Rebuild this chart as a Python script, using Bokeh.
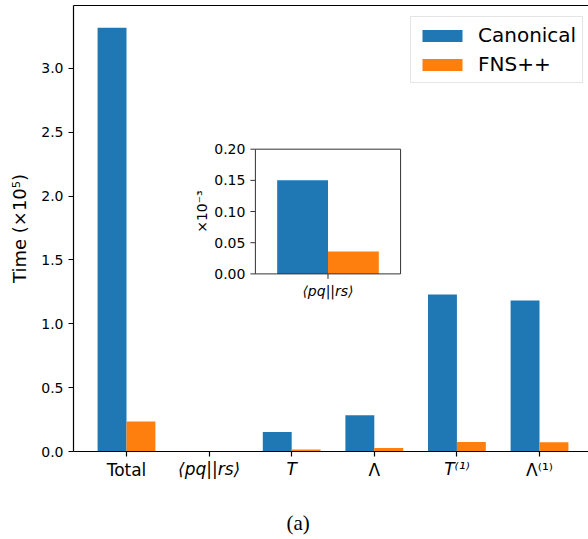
import numpy as np
from bokeh.plotting import figure
from bokeh.models import Range1d, FixedTicker, LinearAxis, Title
from bokeh.core.properties import value
from bokeh.embed import file_html
from bokeh.resources import INLINE

# ---------------- data ----------------
categories = ["Total", "⟨pq||rs⟩", "T", "Λ", "T⁽¹⁾", "Λ⁽¹⁾"]
category_italic = [False, True, True, False, True, False]
series_names = ["Canonical", "FNS++"]
canonical = [3.317, 0.150e-3, 0.153, 0.284, 1.229, 1.182]
fns = [0.234, 0.036e-3, 0.016, 0.028, 0.075, 0.073]
y_ticks = [0.0, 0.5, 1.0, 1.5, 2.0, 2.5, 3.0]
y_tick_labels = ["0.0", "0.5", "1.0", "1.5", "2.0", "2.5", "3.0"]
y_label = "Time (×10⁵)"

inset_categories = ["⟨pq||rs⟩"]
inset_canonical = [0.150]
inset_fns = [0.036]
inset_ticks = [0.00, 0.05, 0.10, 0.15, 0.20]
inset_tick_labels = ["0.00", "0.05", "0.10", "0.15", "0.20"]
inset_ylabel = "×10⁻³"
caption = "(a)"

colors = ["#1f77b4", "#ff7f0e"]
bar_width = 0.35
FONT = "DejaVu Sans"

# ---------------- main figure ----------------
p = figure(width=588, height=539, output_backend="svg", toolbar_location=None,
           x_range=Range1d(-0.6416, 5.593), y_range=Range1d(0, 3.492),
           min_border_left=73, min_border_right=0, min_border_top=5, min_border_bottom=87)
p.outline_line_color = None
p.grid.visible = False
p.background_fill_color = "white"
p.border_fill_color = "white"

xs = np.arange(len(categories), dtype=float)
p.vbar(x=xs - bar_width / 2, top=canonical, width=bar_width, fill_color=colors[0],
       line_color=None, legend_label=series_names[0])
p.vbar(x=xs + bar_width / 2, top=fns, width=bar_width, fill_color=colors[1],
       line_color=None, legend_label=series_names[1])

# y axis
ya = p.yaxis[0]
ya.ticker = FixedTicker(ticks=y_ticks)
ya.major_label_overrides = {t: l for t, l in zip(y_ticks, y_tick_labels)}
ya.axis_label = y_label
ya.axis_label_text_font = FONT
ya.axis_label_text_font_style = "normal"
ya.axis_label_text_font_size = "18px"
ya.axis_label_text_color = "black"
ya.axis_label_standoff = 8
ya.major_label_text_font = FONT
ya.major_label_text_font_size = "14px"
ya.major_label_text_color = "black"
ya.major_label_standoff = 5
ya.major_tick_out = 5
ya.major_tick_in = 0
ya.minor_tick_line_color = None
ya.axis_line_color = "black"
ya.axis_line_width = 1.2
ya.major_tick_line_width = 1.2

# x axis: upright labels on main axis, italic labels on a second, overlapping axis
upright_pos = [float(x) for x, it in zip(xs, category_italic) if not it]
italic_pos = [float(x) for x, it in zip(xs, category_italic) if it]
xa = p.xaxis[0]
xa.ticker = FixedTicker(ticks=upright_pos, minor_ticks=italic_pos)
xa.major_label_overrides = {float(x): c for x, c, it in zip(xs, categories, category_italic) if not it}
xa.major_label_text_font = FONT
xa.major_label_text_font_size = "17px"
xa.major_label_text_color = "black"
xa.major_label_standoff = 3
xa.major_tick_out = 5
xa.major_tick_in = 0
xa.minor_tick_out = 5
xa.minor_tick_in = 0
xa.minor_tick_line_color = "black"
xa.minor_tick_line_width = 1.2
xa.axis_line_color = "black"
xa.axis_line_width = 1.2
xa.major_tick_line_width = 1.2

xa2 = LinearAxis(ticker=FixedTicker(ticks=italic_pos, minor_ticks=[]),
                 axis_line_color=None, major_tick_line_color=None,
                 minor_tick_line_color=None, major_tick_out=0, major_tick_in=0,
                 minor_tick_out=0, minor_tick_in=0, major_label_standoff=-24,
                 major_label_overrides={float(x): c for x, c, it in zip(xs, categories, category_italic) if it},
                 major_label_text_font=FONT, major_label_text_font_style="italic",
                 major_label_text_font_size="17px", major_label_text_color="black")
p.add_layout(xa2, "below")

# blank spacer axis between tick labels and caption
spacer = LinearAxis(ticker=FixedTicker(ticks=[2.0], minor_ticks=[]), axis_line_color=None,
                    major_tick_line_color=None, minor_tick_line_color=None,
                    major_tick_out=0, major_tick_in=0, minor_tick_out=0, minor_tick_in=0,
                    major_label_standoff=7, major_label_overrides={2.0: " "},
                    major_label_text_font=FONT, major_label_text_font_size="10px",
                    major_label_text_color="white")
p.add_layout(spacer, "below")

# caption
p.add_layout(Title(text=caption, align="left", offset=213, standoff=10,
                   text_font="Liberation Serif", text_font_size="21px",
                   text_font_style="normal", text_color="black"),
             "below")

# top spine
top_axis = LinearAxis(ticker=FixedTicker(ticks=[]), axis_line_color="black",
                      axis_line_width=1.2, major_tick_line_color=None,
                      minor_tick_line_color=None, major_tick_out=0, major_tick_in=0,
                      major_label_standoff=0)
p.add_layout(top_axis, "above")

# legend
lg = p.legend[0]
lg.location = (337, 368)
lg.margin = 0
lg.label_text_font = FONT
lg.label_text_font_size = "20px"
lg.label_text_color = "black"
lg.glyph_width = 50
lg.glyph_height = 15
lg.label_height = 22
lg.label_standoff = 11
lg.padding = 6
lg.spacing = 5
lg.border_line_color = "#cccccc"
lg.border_line_width = 1
lg.background_fill_alpha = 0.8

# ---------------- inset ----------------
ix0, ix1 = -0.5, 0.5
iy0, iy1 = 0.0, 0.2
sub = p.subplot(x_source=Range1d(ix0, ix1), y_source=Range1d(iy0, iy1),
                x_target=Range1d(1.5605, 3.318), y_target=Range1d(1.3906, 2.367))
sub.vbar(x=[-bar_width / 2], top=inset_canonical, width=bar_width,
         fill_color=colors[0], line_color=None)
sub.vbar(x=[bar_width / 2], top=inset_fns, width=bar_width,
         fill_color=colors[1], line_color=None)
sub.quad(left=[ix0], right=[ix1], bottom=[iy0], top=[iy1], fill_color=None,
         line_color="#333333", line_width=1)
sub.ray(x=[ix0] * len(inset_ticks), y=inset_ticks, length=5, length_units="screen",
        angle=np.pi, line_color="#333333", line_width=1)
sub.ray(x=[0.0], y=[iy0], length=5, length_units="screen", angle=-np.pi / 2,
        line_color="#333333", line_width=1)
sub.text(x=[ix0] * len(inset_ticks), y=inset_ticks, text=inset_tick_labels,
         x_offset=-10, text_align="right", text_baseline="middle",
         text_font=value(FONT), text_font_size="14px", text_color="black")
sub.text(x=[ix0], y=[(iy0 + iy1) / 2], text=[inset_ylabel], angle=np.pi / 2,
         x_offset=-53, text_align="center", text_baseline="middle",
         text_font=value(FONT), text_font_size="14px", text_color="black")
sub.text(x=[0.0], y=[iy0], text=inset_categories, y_offset=17, text_align="center",
         text_baseline="middle", text_font=value(FONT), text_font_style="italic",
         text_font_size="14px", text_color="black")

open("out.html", "w").write(file_html(p, INLINE))
